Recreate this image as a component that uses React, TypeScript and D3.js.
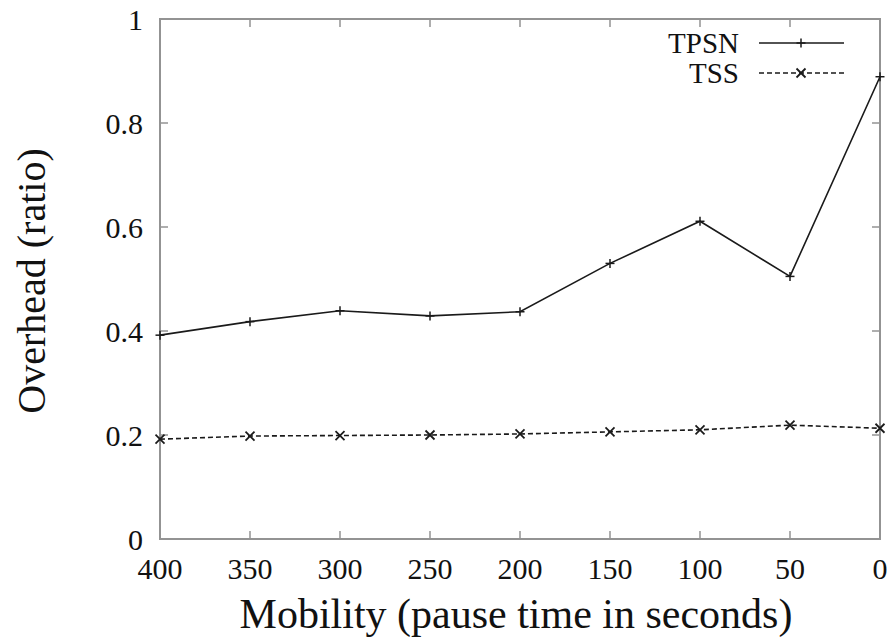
import React from "react";
import * as d3 from "d3";

const pauseTimes = [400, 350, 300, 250, 200, 150, 100, 50, 0];
const tpsn = [0.392, 0.418, 0.439, 0.429, 0.437, 0.53, 0.611, 0.505, 0.889];
const tss = [0.192, 0.198, 0.199, 0.2, 0.202, 0.206, 0.21, 0.219, 0.213];
const xTicks = [400, 350, 300, 250, 200, 150, 100, 50, 0];
const yTicks = [0, 0.2, 0.4, 0.6, 0.8, 1];
const yTickLabels = ["0", "0.2", "0.4", "0.6", "0.8", "1"];

const W = 893;
const H = 637;
const FONT = "'Liberation Serif', 'Times New Roman', serif";
const FRAME = "#939393";

export default function App() {
  const x = d3.scaleLinear().domain([400, 0]).range([160, 880]);
  const y = d3.scaleLinear().domain([0, 1]).range([539, 19]);
  const line = d3
    .line<number>()
    .x((_, i) => x(pauseTimes[i]))
    .y((d) => y(d));
  const [x0, x1] = x.range();
  const [y0, y1] = y.range();
  const tl = 8;
  const ms = 4.5;

  return (
    <svg
      width={W}
      height={H}
      style={{ position: "absolute", left: 0, top: 0, background: "#fff" }}
      fontFamily={FONT}
    >
      {/* frame */}
      <rect x={x0} y={y1} width={x1 - x0} height={y0 - y1} fill="none" stroke={FRAME} strokeWidth={2} />
      {/* x ticks */}
      {xTicks.map((t) => (
        <g key={"xt" + t}>
          <line x1={x(t)} x2={x(t)} y1={y0} y2={y0 - tl} stroke={FRAME} strokeWidth={1.5} />
          <line x1={x(t)} x2={x(t)} y1={y1} y2={y1 + tl} stroke={FRAME} strokeWidth={1.5} />
          <text x={x(t)} y={579} textAnchor="middle" fontSize={30} fill="#111">
            {t}
          </text>
        </g>
      ))}
      {/* y ticks */}
      {yTicks.map((t, i) => (
        <g key={"yt" + t}>
          <line x1={x0} x2={x0 + tl} y1={y(t)} y2={y(t)} stroke={FRAME} strokeWidth={1.5} />
          <line x1={x1} x2={x1 - tl} y1={y(t)} y2={y(t)} stroke={FRAME} strokeWidth={1.5} />
          <text x={143} y={y(t) + 11} textAnchor="end" fontSize={30} fill="#111">
            {yTickLabels[i]}
          </text>
        </g>
      ))}
      {/* axis titles */}
      <text x={(x0 + x1) / 2 - 4} y={628} textAnchor="middle" fontSize={42} fill="#111">
        Mobility (pause time in seconds)
      </text>
      <text
        transform={`translate(45, ${(y0 + y1) / 2 + 2}) rotate(-90)`}
        textAnchor="middle"
        fontSize={40}
        fill="#111"
      >
        Overhead (ratio)
      </text>
      {/* series lines */}
      <path d={line(tpsn) || ""} fill="none" stroke="#1a1a1a" strokeWidth={1.6} />
      <path d={line(tss) || ""} fill="none" stroke="#1a1a1a" strokeWidth={1.6} strokeDasharray="5,3" />
      {/* markers */}
      {tpsn.map((v, i) => (
        <g key={"pm" + i} stroke="#1a1a1a" strokeWidth={1.5}>
          <line x1={x(pauseTimes[i]) - ms} x2={x(pauseTimes[i]) + ms} y1={y(v)} y2={y(v)} />
          <line x1={x(pauseTimes[i])} x2={x(pauseTimes[i])} y1={y(v) - ms} y2={y(v) + ms} />
        </g>
      ))}
      {tss.map((v, i) => (
        <g key={"xm" + i} stroke="#1a1a1a" strokeWidth={1.8}>
          <line x1={x(pauseTimes[i]) - ms} x2={x(pauseTimes[i]) + ms} y1={y(v) - ms} y2={y(v) + ms} />
          <line x1={x(pauseTimes[i]) - ms} x2={x(pauseTimes[i]) + ms} y1={y(v) + ms} y2={y(v) - ms} />
        </g>
      ))}
      {/* legend */}
      <text x={739} y={53} textAnchor="end" fontSize={29} fill="#111">
        TPSN
      </text>
      <line x1={759} x2={844} y1={43} y2={43} stroke="#1a1a1a" strokeWidth={1.6} />
      <g stroke="#1a1a1a" strokeWidth={1.5}>
        <line x1={801 - ms} x2={801 + ms} y1={43} y2={43} />
        <line x1={801} x2={801} y1={43 - ms} y2={43 + ms} />
      </g>
      <text x={739} y={83} textAnchor="end" fontSize={29} fill="#111">
        TSS
      </text>
      <line x1={759} x2={844} y1={73} y2={73} stroke="#1a1a1a" strokeWidth={1.6} strokeDasharray="5,3" />
      <g stroke="#1a1a1a" strokeWidth={1.8}>
        <line x1={801 - ms} x2={801 + ms} y1={73 - ms} y2={73 + ms} />
        <line x1={801 - ms} x2={801 + ms} y1={73 + ms} y2={73 - ms} />
      </g>
    </svg>
  );
}
